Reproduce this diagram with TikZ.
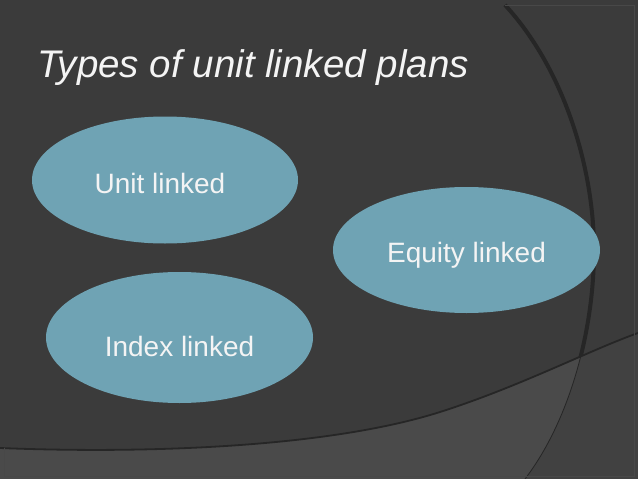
\documentclass[tikz,border=0pt]{standalone}
\usepackage{fontspec}
\setmainfont{Liberation Sans}
\usetikzlibrary{shapes.geometric,calc}
\definecolor{slideBg}{HTML}{3B3B3B}
\definecolor{slideLow}{HTML}{4A4A4A}
\definecolor{slideLowRight}{HTML}{414141}
\definecolor{arcLine}{HTML}{262626}
\definecolor{frameLine}{HTML}{484848}
\definecolor{bubbleFill}{HTML}{6FA3B4}
\definecolor{bubbleText}{HTML}{F4F4F4}

\tikzset{
  bubble/.style={ellipse, fill=bubbleFill, draw=none, inner sep=0pt},
  bubbletext/.style={anchor=base, inner sep=0pt, text=bubbleText,
    font=\fontsize{28}{32}\selectfont},
  titletext/.style={anchor=base west, inner sep=0pt, text=bubbleText,
    font=\fontsize{38.5}{44}\selectfont\itshape},
}

\begin{document}
\begin{tikzpicture}[x=1pt,y=-1pt]

% --- PAGE (pixel grid, y down) ---
\useasboundingbox (0,0) rectangle (638,479);
\fill[slideBg] (0,0) rectangle (638,479);

% --- BIG ARC (upper, thick part) ---
\def\bigarc{(505,5) .. controls (565,70) and (594,170) .. (594,250)
  .. controls (594,330) and (570,420) .. (525,479)}
\draw[arcLine, line width=4pt] \bigarc;

% --- LOWER BAND ---
\def\lowband{(0,448) .. controls (150,454) and (330,447) .. (440,412)
  .. controls (520,386.5) and (590,350) .. (638,333)}
\fill[slideLow] \lowband -- (638,479) -- (0,479) -- cycle;
\begin{scope}
  \clip \lowband -- (638,479) -- (0,479) -- cycle;
  \fill[slideLowRight] \bigarc -- (638,479) -- (638,0) -- cycle;
\end{scope}
\draw[arcLine, line width=0.8pt] \bigarc;
\draw[arcLine, line width=1.8pt] \lowband;

% --- FRAME ---
\draw[frameLine, line width=0.8pt]
  (505,5) -- (634,5) -- (634,476) -- (4,476) -- (4,448);

% --- TITLE ---
\node[titletext] (title) at (37,77) {Types of unit linked plans};

% --- BUBBLES ---
\foreach \nm/\cx/\cy/\w/\h/\dx/\dy/\txt in {
    unit/165/180/266/127/-5/13/{Unit linked},
    equity/466.5/250/267/126/0/12/{Equity linked},
    index/179.5/337.5/267/131/0/18.5/{Index linked}} {
  \node[bubble, minimum width=\w pt, minimum height=\h pt] (\nm) at (\cx,\cy) {};
  \node[bubbletext] (\nm-txt) at ($(\nm.center)+(\dx,\dy)$) {\txt};
}

\end{tikzpicture}
\end{document}
